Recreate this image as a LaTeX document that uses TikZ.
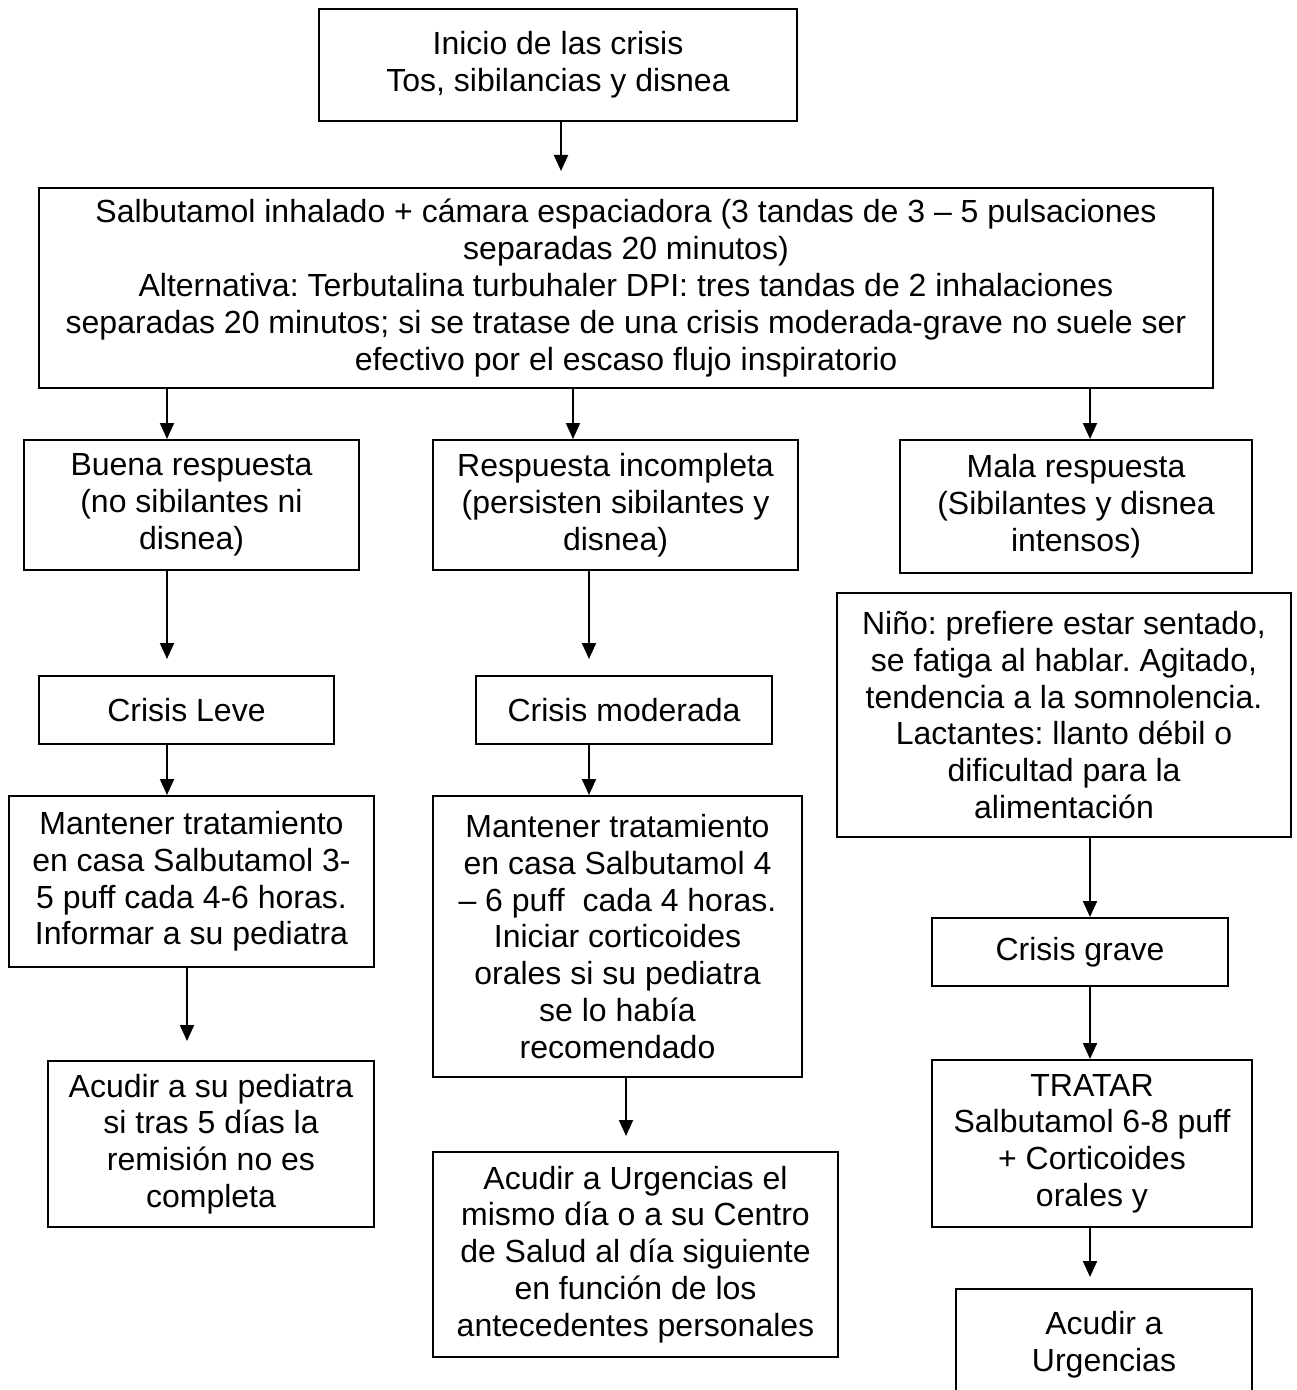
\documentclass[tikz,border=0pt]{standalone}
\usepackage{fontspec}
\setmainfont{Liberation Sans}
\usetikzlibrary{arrows.meta}
\frenchspacing

\begin{document}
\begin{tikzpicture}[x=0.5pt,y=-0.5pt,
    caja/.style={draw,line width=1pt,align=center,inner sep=0pt,
        font=\fontsize{16}{18.4}\selectfont},
    flecha/.style={line width=1pt,-{Triangle[width=7pt,length=8pt]}}]
        \useasboundingbox (0,0) rectangle (1296,1390);
        \clip (0,0) rectangle (1296,1390);
        \node[caja,minimum width=239pt,minimum height=56pt] (inicio) at (558,65)
            {Inicio de las crisis\\Tos, sibilancias y disnea};
        \node[caja,minimum width=587pt,minimum height=100pt] (salbu) at (626,288)
            {Salbutamol inhalado + cámara espaciadora (3 tandas de 3 – 5 pulsaciones\\
             separadas 20 minutos)\\
             Alternativa: Terbutalina turbuhaler DPI: tres tandas de 2 inhalaciones\\
             separadas 20 minutos; si se tratase de una crisis moderada-grave no suele ser\\
             efectivo por el escaso flujo inspiratorio};
        \node[caja,minimum width=167.5pt,minimum height=65pt] (buena) at (191.5,505)
            {Buena respuesta\\(no sibilantes ni\\disnea)};
        \node[caja,minimum width=182.5pt,minimum height=65pt] (incompl) at (615.5,505)
            {Respuesta incompleta\\(persisten sibilantes y\\disnea)};
        \node[caja,minimum width=176pt,minimum height=66.5pt] (mala) at (1076,506.5)
            {Mala respuesta\\(Sibilantes y disnea\\intensos)};
        \node[caja,minimum width=147.5pt,minimum height=34pt] (leve) at (186.5,710)
            {Crisis Leve};
        \node[caja,minimum width=148pt,minimum height=34pt] (moderada) at (624,710)
            {Crisis moderada};
        \node[caja,minimum width=227pt,minimum height=122pt] (nino) at (1064,715)
            {Niño: prefiere estar sentado,\\se fatiga al hablar. Agitado,\\
             tendencia a la somnolencia.\\Lactantes: llanto débil o\\
             dificultad para la\\alimentación};
        \node[caja,minimum width=182.5pt,minimum height=85.5pt] (mant1) at (191.5,881.5)
            {Mantener tratamiento\\en casa Salbutamol 3-\\5 puff cada 4-6 horas.\\
             Informar a su pediatra};
        \node[caja,minimum width=184.5pt,minimum height=140.5pt] (mant2) at (617.5,936.5)
            {Mantener tratamiento\\en casa Salbutamol 4\\– 6 puff\ \ cada 4 horas.\\
             Iniciar corticoides\\orales si su pediatra\\se lo había\\recomendado};
        \node[caja,minimum width=148pt,minimum height=34pt] (grave) at (1080,952)
            {Crisis grave};
        \node[caja,minimum width=163pt,minimum height=83pt] (pediatra) at (211,1144)
            {Acudir a su pediatra\\si tras 5 días la\\remisión no es\\completa};
        \node[caja,minimum width=202.5pt,minimum height=102.5pt] (urgdia) at (635.5,1254.5)
            {Acudir a Urgencias el\\mismo día o a su Centro\\de Salud al día siguiente\\
             en función de los\\antecedentes personales};
        \node[caja,minimum width=160pt,minimum height=83.5pt] (tratar) at (1092,1143.5)
            {TRATAR\\Salbutamol 6-8 puff\\+ Corticoides\\orales y};
        \node[caja,minimum width=148pt,minimum height=55.5pt] (urg) at (1104,1344.5)
            {Acudir a\\Urgencias};
        \foreach \a/\b/\x/\g in {inicio/salbu/561/8,salbu/buena/167/0,salbu/incompl/573/0,
            salbu/mala/1090/0,buena/leve/167/8,incompl/moderada/589/8,leve/mant1/167/0,
            moderada/mant2/589/0,mant1/pediatra/187/9.5,mant2/urgdia/626/7.5,
            nino/grave/1090/0,grave/tratar/1090/0,tratar/urg/1090/5.5} {
            \draw[flecha,shorten >=\g pt] (\a.south -| \x,0) -- (\b.north -| \x,0);
          }
      \end{tikzpicture}
\end{document}
